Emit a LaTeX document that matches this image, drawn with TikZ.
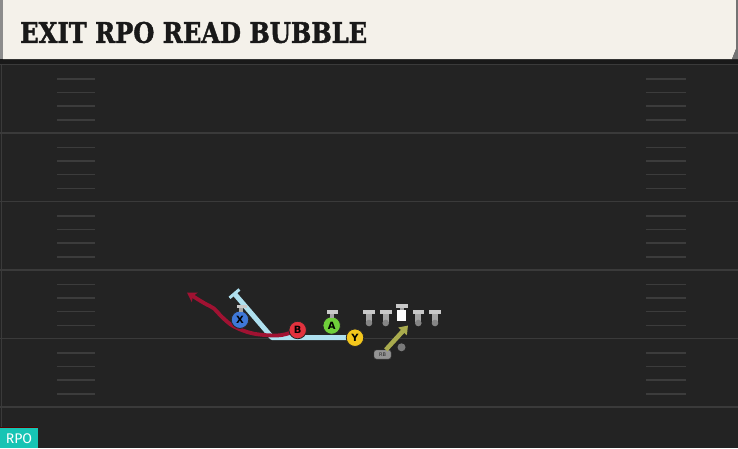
\documentclass[tikz,border=0pt]{standalone}
\usepackage{fontspec}
\usetikzlibrary{arrows.meta}
\newfontfamily\titlefont{DejaVu Serif}[BoldFeatures={FakeBold=1.6}]
\newfontfamily\labelfont{Fira Sans}
\newfontfamily\letterfont{DejaVu Sans}
\definecolor{bgc}{HTML}{232323}
\definecolor{yardc}{HTML}{3A3A3A}
\definecolor{hashc}{HTML}{3C3C3C}
\definecolor{cream}{HTML}{F4F1EA}
\definecolor{teal}{HTML}{17C4B4}
\definecolor{xblue}{HTML}{3F78D8}
\definecolor{bred}{HTML}{E2323E}
\definecolor{agreen}{HTML}{6FCF3A}
\definecolor{yyellow}{HTML}{F3C61C}
\definecolor{routered}{HTML}{A01232}
\definecolor{blockblue}{HTML}{AEE0EF}
\definecolor{rbolive}{HTML}{A9AB4E}
\definecolor{tbar}{HTML}{C9C9C9}
\definecolor{tstem}{HTML}{A6A6A6}
\definecolor{tfoot}{HTML}{858585}
\tikzset{
  yard/.style={draw=yardc, line width=1.6pt},
  hashmark/.style={draw=hashc, line width=1.3pt},
  titlestyle/.style={anchor=south west, inner sep=0pt, text=black!90},
  player/.style={circle, draw=black!85, line width=0.8pt, minimum size=17.5pt, inner sep=0pt,
    font=\letterfont\bfseries\fontsize{10}{10}\selectfont, text=black},
  stancebar/.style={fill=tbar},
  blockroute/.style={draw=blockblue, line width=5pt, line join=round},
  runroute/.style={draw=routered, line width=3.8pt, line cap=round, line join=round},
  rbroute/.style={draw=rbolive, line width=4.5pt},
  lineman/.pic={
    \fill[tstem] (-3,4) rectangle (3,12);
    \fill[tfoot] (0,13) circle[radius=3.3];
    \fill[tbar] (-5.8,0) rectangle (5.8,4.2);
  }
}
\begin{document}
\begin{tikzpicture}[x=1pt,y=-1pt]
\useasboundingbox (0,0) rectangle (738,448);
% background
\fill[bgc] (0,0) rectangle (738,448);
\fill[black!90] (0,58) rectangle (738,64);
\draw[yardc, line width=1pt] (1.5,64) -- (1.5,428);
% yard lines
\foreach \y in {64.5,133,201.5,270,338.5,407}{
  \draw[yard] (0,\y) -- (738,\y);
}
% hash marks
\foreach \y in {64.5,133,201.5,270,338.5}{
  \foreach \d in {14.5,28,41.5,55.5}{
    \draw[hashmark] (57,\y+\d) -- (95,\y+\d);
    \draw[hashmark] (646,\y+\d) -- (686,\y+\d);
  }
}
% banner
\fill[black!45] (0,0) rectangle (3,59);
\fill[cream] (3,0) -- (736,0) -- (736,49) -- (732,59) -- (3,59) -- cycle;
\fill[black!55] (736,0) rectangle (738,49);
\fill[black!55] (736,49) -- (738,49) -- (738,59) -- (732,59) -- cycle;
\node[titlestyle] (title) at (20,43.4)
  {\resizebox{347pt}{21pt}{\titlefont\bfseries EXIT RPO READ BUBBLE}};
% RPO tag
\fill[teal] (0,428) rectangle (38,448);
\draw[red!35!black, line width=0.8pt] (0,427.6) -- (38,427.6);
\node[inner sep=0pt, text=white, font=\labelfont\fontsize{14}{14}\selectfont] (rpo) at (19,438.5) {RPO};
% player positions
\coordinate (X) at (240,319.7);
\coordinate (B) at (297.7,330);
\coordinate (A) at (331.7,325.5);
\coordinate (Y) at (355,337.7);
% route coordinates
\coordinate (yturn) at (272,337.5);
\coordinate (xblock) at (233.5,292.5);
\coordinate (redend) at (187,292.5);
\coordinate (rbend) at (408,325.5);
% routes (drawn first so players sit on top)
\draw[blockroute, -{Bar[width=13pt,line width=3pt]}] ([xshift=-8pt]Y) -- (yturn) -- (xblock);
\draw[runroute, -{Stealth[length=9pt,width=11pt,inset=2pt]}] plot[smooth, tension=0.6] coordinates
  {(289.5,333) (277,335.5) (253,333.5) (234,326.5) (222,317) (214,308.5) (204,303) (redend)};
% players
\node[player, fill=xblue] (Xp) at (X) {X};
\node[player, fill=bred] (Bp) at (B) {B};
\node[player, fill=agreen] (Ap) at (A) {A};
\node[player, fill=yyellow] (Yp) at (Y) {Y};
% stance markers
\fill[tstem] (239,307) rectangle (243,311.5);
\fill[stancebar] (236.5,304.5) rectangle (246.8,307.5);
\fill[tstem] (330,313) rectangle (334,317.5);
\fill[stancebar] (326.7,310) rectangle (338.3,313.5);
% offensive line
\pic at (369,310) {lineman};
\pic at (385.7,310) {lineman};
\pic at (418.3,310) {lineman};
\pic at (435,310) {lineman};
\fill[tbar] (396.2,304) rectangle (407.8,308);
\fill[tstem] (399.8,308) rectangle (404.2,310.5);
\node[fill=white, minimum width=8.6pt, minimum height=10.6pt, inner sep=0pt] (C) at (401.7,315.6) {};
% QB and RB
\node[circle, fill=black!52, minimum size=8pt, inner sep=0pt] (QB) at (401.5,347.3) {};
\node[draw=black!70, fill=black!42, rounded corners=2.5pt, minimum width=17pt, minimum height=9pt,
  inner sep=0pt, font=\letterfont\fontsize{5}{5}\selectfont, text=black!85] (RB) at (382.5,354.5) {RB};
\draw[rbroute, -{Triangle[length=8pt,width=11pt]}] (RB.55) -- (rbend);
\end{tikzpicture}
\end{document}
